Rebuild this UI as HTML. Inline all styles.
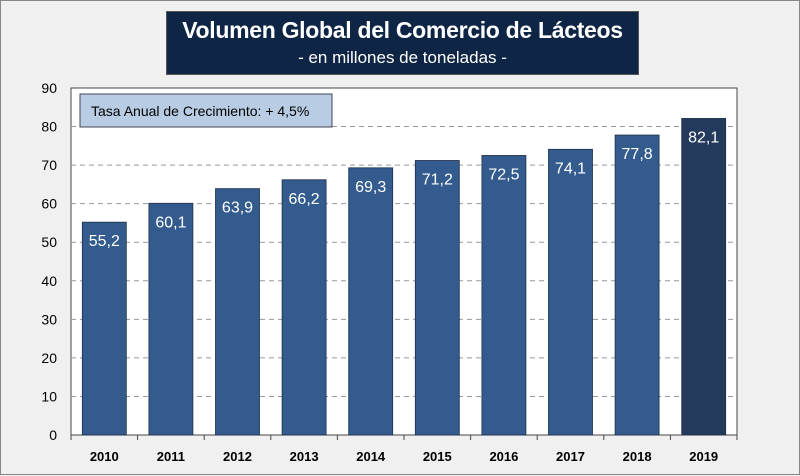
<!DOCTYPE html>
<html><head><meta charset="utf-8"><style>
body{margin:0;width:800px;height:475px;overflow:hidden;background:#efefef;font-family:"Liberation Sans",sans-serif}
#wrap{position:absolute;left:0;top:0;width:798px;height:473px;border:1px solid #888;background:#f0f0f0}
#title{position:absolute;left:165px;top:10px;width:471px;height:62px;background:#0f2545;color:#fff;text-align:center;border:1px solid #555;z-index:2;white-space:nowrap}
#title .t{font-size:23px;font-weight:bold;margin-top:5px;letter-spacing:-0.3px}
#title .s{font-size:17px;margin-top:4px}
</style></head><body>
<div id="wrap">
<svg id="chart" width="800" height="475" style="position:absolute;left:0;top:0"></svg>
<div id="title"><div class="t">Volumen Global del Comercio de Lácteos</div><div class="s">- en millones de toneladas -</div></div>
</div>
<script>
const categories=["2010","2011","2012","2013","2014","2015","2016","2017","2018","2019"];
const values=[55.2,60.1,63.9,66.2,69.3,71.2,72.5,74.1,77.8,82.1];
const ticks=[0,10,20,30,40,50,60,70,80,90];
const NS="http://www.w3.org/2000/svg";
const svg=document.getElementById('chart');
const L=70,R=736,T=87,B=434,maxV=90;
const y=v=>B-(v/maxV)*(B-T);
const bw=(R-L)/categories.length;
const x=i=>L+i*bw;
function mk(t,a,p){const e=document.createElementNS(NS,t);for(const k in a)e.setAttribute(k,a[k]);(p||svg).appendChild(e);return e;}
const bg=mk('rect',{x:L,y:T,width:R-L,height:B-T,fill:'#fff',stroke:'#444','stroke-width':1});


ticks.forEach(t=>{
 if(t>0&&t<maxV){const g=mk('line',{x1:L,x2:R,y1:y(t),y2:y(t),stroke:'#999','stroke-dasharray':'5,4'});
 
 }
 const tx=mk('text',{x:L-14,y:y(t)+5,'text-anchor':'end','font-size':14,fill:'#000'});tx.textContent=t;
 
 
});
categories.forEach((c,i)=>{
 const cx=x(i)+bw/2,w=44,last=i===categories.length-1;
 const r=mk('rect',{x:cx-w/2,y:y(values[i]),width:w,height:B-y(values[i]),fill:last?'#243a5c':'#345b8d',stroke:'#1d2f4a','stroke-width':0.8});
 
 
 const v=mk('text',{x:cx,y:y(values[i])+24,'text-anchor':'middle','font-size':16,fill:'#fff'});v.textContent=values[i].toFixed(1).replace('.',',');
 
 
 const l=mk('text',{x:cx,y:B+26,'text-anchor':'middle','font-size':13,'font-weight':'bold',fill:'#000'});l.textContent=c;
 
 
 mk('line',{x1:x(i),x2:x(i),y1:B,y2:B+5,stroke:'#444'});
});
mk('line',{x1:R,x2:R,y1:B,y2:B+5,stroke:'#444'});
const box=mk('rect',{x:79,y:93,width:252,height:33,fill:'#b8cce4',stroke:'#445','stroke-width':1});


const bt=mk('text',{x:90,y:115,'font-size':14,fill:'#000'});bt.textContent='Tasa Anual de Crecimiento: + 4,5%';


</script>
</body></html>
